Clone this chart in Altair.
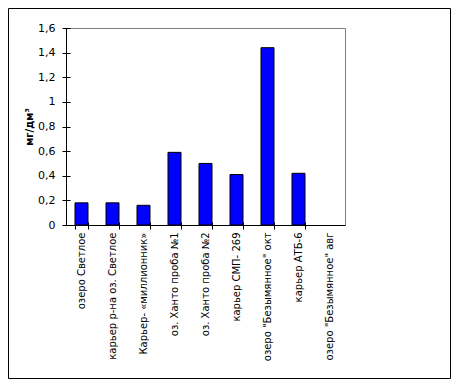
import altair as alt
import pandas as pd

categories = [
    "озеро Светлое",
    "карьер  р-на оз. Светлое",
    "Карьер- «миллионник»",
    "оз. Ханто проба №1",
    "оз. Ханто проба №2",
    "карьер СМП- 269",
    "озеро \"Безымянное\" окт",
    "карьер АТБ-6",
    "озеро \"Безымянное\" авг",
]
values = [0.18, 0.18, 0.16, 0.59, 0.50, 0.41, 1.44, 0.42, None]
y_ticks = [0, 0.2, 0.4, 0.6, 0.8, 1.0, 1.2, 1.4, 1.6]

df = pd.DataFrame({"cat": categories, "val": values})

FONT = "DejaVu Sans"
W, H = 279, 197
PL, PT = 58, 20
TOTW, TOTH = 443, 371
PR = TOTW - PL - W
PB = TOTH - PT - H

xscale = alt.Scale(domain=categories, paddingInner=0.58, paddingOuter=0.29)
yscale = alt.Scale(domain=[0, 1.6], nice=False, zero=True)

label_expr = "replace(format(datum.value, '.1~f'), '.', ',')"

bars = alt.Chart(df).mark_bar(color="#0000FF", stroke="#000000", strokeWidth=1).encode(
    x=alt.X("cat:N", scale=xscale, sort=None,
            axis=alt.Axis(title=None, orient="bottom", labelAngle=270, labelAlign="right",
                          labelBaseline="middle", labelFont=FONT, labelFontSize=10,
                          labelColor="#000000", labelPadding=7, ticks=False, tickSize=0,
                          domainColor="#000000", labelLimit=300, grid=False)),
    y=alt.Y("val:Q", scale=yscale,
            axis=alt.Axis(title="мг/дм³", orient="left", values=y_ticks, labelExpr=label_expr,
                          labelFont=FONT, labelFontSize=11, labelColor="#000000",
                          labelPadding=11, ticks=False, tickSize=0, domainColor="#000000",
                          grid=False, titleFont=FONT, titleFontSize=10, titleFontWeight="bold",
                          titleColor="#000000", titlePadding=3)),
)

ticks = alt.Chart(df).mark_bar(opacity=0).encode(
    x=alt.X("cat:N", scale=xscale, sort=None,
            axis=alt.Axis(title=None, orient="bottom", labels=False, domain=False,
                          values=categories[:-1],
                          ticks=True, tickSize=7, offset=-3, tickBand="extent",
                          tickColor="#000000", grid=False)),
    y=alt.Y("val:Q", scale=yscale,
            axis=alt.Axis(title=None, orient="left", values=y_ticks, labels=False, domain=False,
                          ticks=True, tickSize=8, offset=-4, tickColor="#000000", grid=False)),
)

frame = alt.Chart(pd.DataFrame({"a": [0]})).mark_rect(
    fill=None, stroke="#000000", strokeWidth=1
).encode(
    x=alt.value(-PL + 0.5), x2=alt.value(TOTW - PL - 0.5),
    y=alt.value(-PT + 0.5), y2=alt.value(TOTH - PT - 0.5),
)

chart = alt.layer(bars, ticks, frame).resolve_axis(x="independent", y="independent").properties(
    width=W, height=H,
    autosize=alt.AutoSizeParams(type="none"),
    padding={"left": PL, "top": PT, "right": PR, "bottom": PB},
    background="#ffffff",
).configure_view(stroke="#808080", strokeWidth=1)

chart.save("out.html", embed_options={"renderer": "svg", "actions": False})
